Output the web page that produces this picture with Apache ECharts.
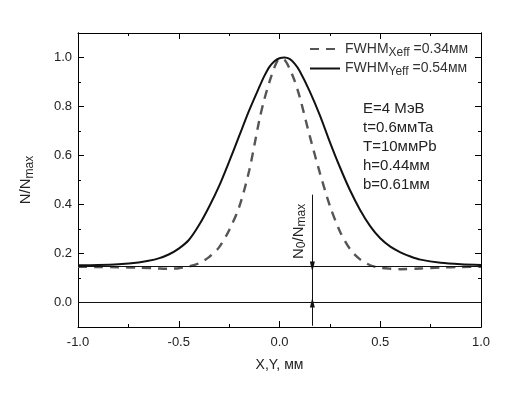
<!DOCTYPE html>
<html><head><meta charset="utf-8">
<script src="https://cdn.jsdelivr.net/npm/echarts@6/dist/echarts.min.js"></script>
<style>html,body{margin:0;padding:0;background:#fff}#c{width:517px;height:393px}</style>
</head><body><div id="c"></div>
<script>
const solidX = [-1.0,-0.9,-0.8,-0.7,-0.65,-0.6,-0.55,-0.5,-0.45,-0.4,-0.35,-0.3,-0.25,-0.2,-0.15,-0.1,-0.075,-0.05,-0.025,0.0,0.025,0.05,0.075,0.1,0.15,0.2,0.25,0.3,0.35,0.4,0.45,0.5,0.55,0.6,0.65,0.7,0.8,0.9,1.0];
const solidY = [0.152,0.153,0.156,0.163,0.170,0.180,0.196,0.220,0.255,0.315,0.390,0.475,0.575,0.680,0.785,0.880,0.925,0.962,0.985,0.997,1.000,0.994,0.975,0.945,0.862,0.765,0.655,0.552,0.458,0.378,0.312,0.262,0.228,0.205,0.188,0.175,0.162,0.156,0.153];
const dashX = [-1.0,-0.9,-0.8,-0.7,-0.6,-0.55,-0.5,-0.45,-0.4,-0.35,-0.3,-0.25,-0.2,-0.15,-0.1,-0.075,-0.05,-0.025,0.0,0.025,0.05,0.075,0.1,0.15,0.2,0.25,0.3,0.35,0.4,0.45,0.5,0.55,0.6,0.7,0.8,0.9,1.0];
const dashY = [0.146,0.145,0.144,0.142,0.139,0.138,0.140,0.147,0.160,0.185,0.225,0.295,0.390,0.540,0.745,0.830,0.900,0.960,0.995,0.990,0.955,0.905,0.840,0.680,0.530,0.395,0.290,0.218,0.176,0.152,0.142,0.138,0.136,0.139,0.143,0.145,0.146];
const refLevels = [0.147, 0.0];
const arrowX = 0.163;
const arrowTop = 0.44, arrowBottom = -0.095;
const yTicksMajor = [0.0,0.2,0.4,0.6,0.8,1.0];
const yTicksMinor = [0.1,0.3,0.5,0.7,0.9];
const seriesNames = ['X', 'Y'];
const annotation = ['E=4 МэВ','t=0.6ммTa','T=10ммPb','h=0.44мм','b=0.61мм'];

const FONT = 'Liberation Sans, Arial, sans-serif';
const chart = echarts.init(document.getElementById('c'));
const zip = (xs, ys) => xs.map((x, i) => [x, ys[i]]);
const baseY = (pos, ticks, len, showLabel) => ({
  type: 'value', position: pos, min: -0.1, max: 1.1, interval: 0.1,
  axisLine: {show: true, onZero: false, lineStyle: {color: '#000', width: 1}},
  axisTick: {show: true, inside: true, length: len, customValues: ticks, lineStyle: {color: '#000'}},
  axisLabel: showLabel ? {show: true, customValues: yTicksMajor, margin: 6, color: '#222', fontSize: 13, fontFamily: FONT,
    formatter: v => v.toFixed(1)} : {show: false},
  splitLine: {show: false}
});
const baseX = (pos, showLabel) => ({
  type: 'value', position: pos, min: -1, max: 1, interval: 0.5,
  axisLine: {show: true, onZero: false, lineStyle: {color: '#000', width: 1}},
  axisTick: {show: true, inside: true, length: 6, lineStyle: {color: '#000'}},
  minorTick: {show: true, splitNumber: 2, length: 3, lineStyle: {color: '#000'}},
  axisLabel: showLabel ? {show: true, margin: 9, color: '#222', fontSize: 13, fontFamily: FONT,
    formatter: v => v.toFixed(1)} : {show: false},
  splitLine: {show: false}, minorSplitLine: {show: false}
});
const yMain = baseY('left', yTicksMajor, 6, true);
yMain.name = '{a|N/N}{s|max}';
yMain.nameLocation = 'middle';
yMain.nameGap = 42;
yMain.nameTextStyle = {rich: {a: {fontSize: 15, fontFamily: FONT, color: '#222'}, s: {fontSize: 12, fontFamily: FONT, color: '#222', padding: [8,0,0,0]}}};
const xMain = baseX('bottom', true);
xMain.name = 'X,Y, мм';
xMain.nameLocation = 'middle';
xMain.nameGap = 31;
xMain.nameTextStyle = {fontSize: 14, fontFamily: FONT, color: '#222'};

const legendFmt = {
  X: '{a|FWHM}{s|Xeff}{a| =0.34мм}',
  Y: '{a|FWHM}{s|Yeff}{a| =0.54мм}'
};

chart.setOption({
  animation: false,
  grid: {left: 78, right: 36, top: 33, bottom: 66},
  xAxis: [xMain, baseX('top', false)],
  yAxis: [yMain, baseY('left', yTicksMinor, 3, false), baseY('right', yTicksMajor, 6, false), baseY('right', yTicksMinor, 3, false)],
  legend: {
    left: 304, top: 37, orient: 'vertical', itemWidth: 30, itemHeight: 10, itemGap: 3,
    data: seriesNames,
    itemStyle: {opacity: 0},
    formatter: n => legendFmt[n],
    textStyle: {rich: {
      a: {fontSize: 14, fontFamily: FONT, color: '#333'},
      s: {fontSize: 12, fontFamily: FONT, color: '#333', padding: [7,0,0,0]}
    }}
  },
  series: [
    {name: 'X', type: 'line', data: zip(dashX, dashY), smooth: 0.3, symbol: 'none', z: 3,
      lineStyle: {color: '#555', width: 2.4, type: [9, 7]}, itemStyle: {color: '#555'}},
    {name: 'Y', type: 'line', data: zip(solidX, solidY), smooth: 0.3, symbol: 'none', z: 4,
      lineStyle: {color: '#111', width: 2}, itemStyle: {color: '#111'}},
    {name: 'ref', type: 'line', data: [], symbol: 'none', silent: true,
      markLine: {
        silent: true, animation: false, label: {show: false},
        data: [
          [{coord: [-1, refLevels[0]], symbol: 'none', lineStyle: {color: '#111', width: 1, type: 'solid'}}, {coord: [1, refLevels[0]], symbol: 'none'}],
          [{coord: [-1, refLevels[1]], symbol: 'none', lineStyle: {color: '#111', width: 1, type: 'solid'}}, {coord: [1, refLevels[1]], symbol: 'none'}],
          [{coord: [arrowX, arrowTop], symbol: 'none', lineStyle: {color: '#111', width: 1, type: 'solid'}}, {coord: [arrowX, refLevels[0]], symbol: 'triangle', symbolSize: [5, 10]}],
          [{coord: [arrowX, arrowBottom], symbol: 'none', lineStyle: {color: '#111', width: 1, type: 'solid'}}, {coord: [arrowX, refLevels[1]], symbol: 'triangle', symbolSize: [5, 10]}],
          [{coord: [arrowX, refLevels[0]], symbol: 'none', lineStyle: {color: '#111', width: 1, type: 'solid'}}, {coord: [arrowX, refLevels[1]], symbol: 'none'}]
        ]
      }}
  ],
  graphic: [
    {type: 'text', left: 363, top: 99, style: {text: annotation.join('\n'), fontSize: 15, lineHeight: 19, fontFamily: FONT, fill: '#222'}},
    {type: 'text', x: 289, y: 259, rotation: Math.PI / 2,
      style: {text: '{a|N}{s|0}{a|/N}{s|max}', rich: {
        a: {fontSize: 15, fontFamily: FONT, fill: '#222'},
        s: {fontSize: 12, fontFamily: FONT, fill: '#222', padding: [7,0,0,0]}
      }}}
  ]
});
</script></body></html>
